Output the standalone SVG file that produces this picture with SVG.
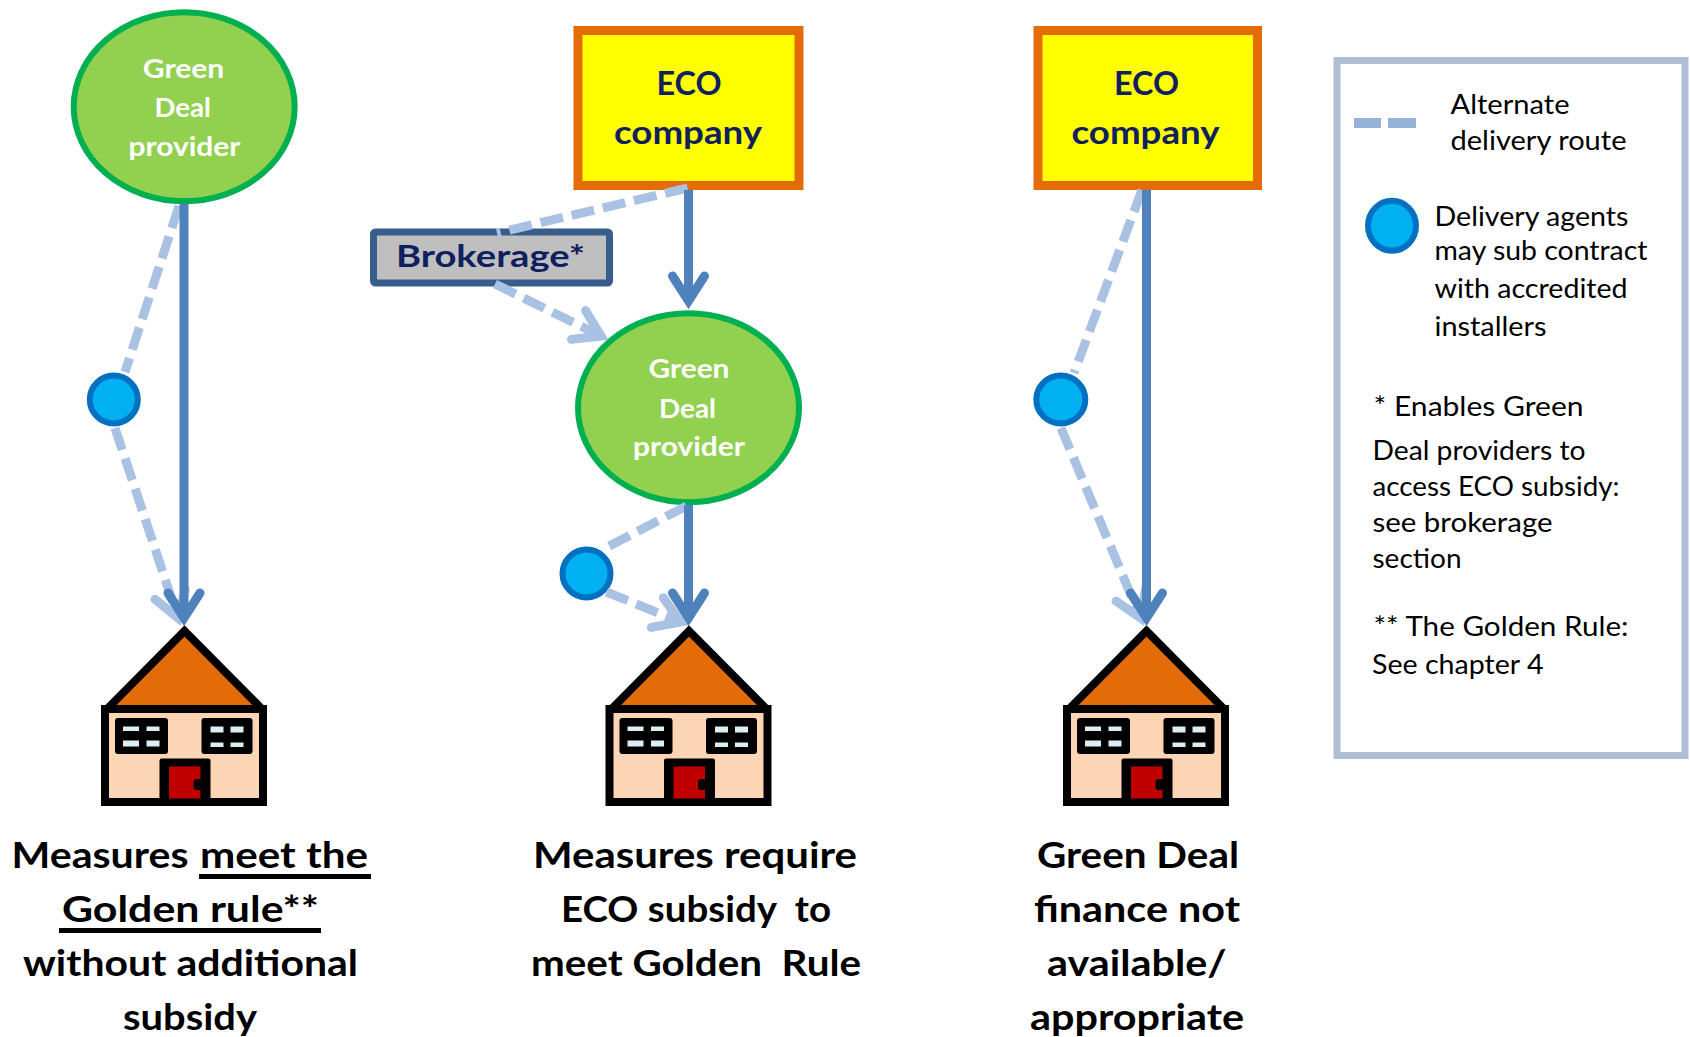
<svg xmlns="http://www.w3.org/2000/svg" width="1690" height="1037" viewBox="0 0 1690 1037">
<style>
text{font-family:"Lato","Carlito","Open Sans",sans-serif;white-space:pre}
.ell{fill:#92d050;stroke:#00b050;stroke-width:6}
.eco{fill:#ffff00;stroke:#e36c09;stroke-width:9}
.agent{fill:#00b0f0;stroke:#0070c0;stroke-width:6}
.w{fill:#fff;font-size:27px;font-weight:700;text-anchor:start}
.n{fill:#10205e;font-size:32px;font-weight:700}
.b{fill:#000;font-size:36px;font-weight:700}
.l{fill:#000;font-size:26px;font-weight:400}
.solid{fill:none;stroke:#4f81bd;stroke-width:9;marker-end:url(#ah)}
.dash{fill:none;stroke:#a9c1e2;stroke-width:9;stroke-dasharray:23 9}
.darr{marker-end:url(#ahl)}
.ul{stroke:#000;stroke-width:5}
</style>
<defs>
<marker id="ah" markerUnits="userSpaceOnUse" markerWidth="60" markerHeight="60" refX="45" refY="30" orient="auto" overflow="visible">
<path d="M20,14 L45,30 L20,46" fill="none" stroke="#4f81bd" stroke-width="9" stroke-linecap="round"/>
</marker>
<marker id="ahl" markerUnits="userSpaceOnUse" markerWidth="60" markerHeight="60" refX="45" refY="30" orient="auto" overflow="visible">
<path d="M20,14 L45,30 L20,46" fill="none" stroke="#a9c1e2" stroke-width="9" stroke-linecap="round"/>
</marker>
<g id="house">
<path d="M184.500,630 L106,709 H263 Z" fill="#e36c09"/>
<path d="M108,708 L184.500,631 L261,708" fill="none" stroke="#000" stroke-width="8"/>
<rect x="105" y="709" width="158" height="93" fill="#fcd5b5" stroke="#000" stroke-width="8"/>
<rect x="115" y="718" width="53" height="36" rx="3" fill="#000"/>
<rect x="201.500" y="718" width="51" height="36" rx="3" fill="#000"/>
<g fill="#dbeef4">
<rect x="123" y="726.500" width="16" height="4.500"/><rect x="146.500" y="726.500" width="13" height="4.500"/>
<rect x="123" y="740.500" width="16" height="6"/><rect x="146.500" y="740.500" width="13" height="6"/>
<rect x="210.500" y="726.500" width="13" height="6"/><rect x="230.500" y="726.500" width="13" height="6"/>
<rect x="210.500" y="742.500" width="13" height="4.500"/><rect x="230.500" y="742.500" width="13" height="4.500"/>
</g>
<rect x="159.500" y="758.500" width="51" height="47" rx="2" fill="#000"/>
<rect x="169" y="766.500" width="31.500" height="32" fill="#c00000"/>
<rect x="193.500" y="779" width="8" height="11" rx="3" fill="#000"/>
</g>
</defs>
<rect width="1690" height="1037" fill="#fff"/>

<g id="house-1"><use href="#house"/></g>
<g id="house-2"><use href="#house" x="504.500"/></g>
<g id="house-3"><use href="#house" x="962"/></g>

<g id="provider-1">
<ellipse class="ell" cx="184.200" cy="106.700" rx="110.500" ry="94.500"/>
<text class="w" x="142.800" y="77.700" textLength="81.500" lengthAdjust="spacingAndGlyphs">Green</text>
<text class="w" x="154.500" y="117" textLength="56.500" lengthAdjust="spacingAndGlyphs">Deal</text>
<text class="w" x="128.500" y="155.700" textLength="112" lengthAdjust="spacingAndGlyphs">provider</text>
</g>
<g id="eco-1">
<rect class="eco" x="578" y="30.500" width="221" height="155"/>
<text class="n" x="656.500" y="95" textLength="65" lengthAdjust="spacingAndGlyphs">ECO</text>
<text class="n" x="614" y="143.800" textLength="148" lengthAdjust="spacingAndGlyphs">company</text>
</g>
<g id="eco-2">
<rect class="eco" x="1038" y="30.500" width="219.500" height="155"/>
<text class="n" x="1114" y="95" textLength="65" lengthAdjust="spacingAndGlyphs">ECO</text>
<text class="n" x="1071.500" y="143.800" textLength="148" lengthAdjust="spacingAndGlyphs">company</text>
</g>
<g id="brokerage">
<rect x="373.500" y="232" width="236" height="51" rx="2" fill="#bfbfbf" stroke="#385d8a" stroke-width="7"/>
<text x="396" y="266.700" fill="#10205e" font-size="30" font-weight="700" textLength="189" lengthAdjust="spacingAndGlyphs">Brokerage*</text>
</g>
<g id="provider-2">
<ellipse class="ell" cx="688.500" cy="407.700" rx="110.500" ry="94.500"/>
<text class="w" x="648.500" y="377.700" textLength="81" lengthAdjust="spacingAndGlyphs">Green</text>
<text class="w" x="659" y="417.700" textLength="57" lengthAdjust="spacingAndGlyphs">Deal</text>
<text class="w" x="633" y="456" textLength="112" lengthAdjust="spacingAndGlyphs">provider</text>
</g>
<g id="agent-1"><ellipse class="agent" cx="113.800" cy="399.500" rx="24" ry="24"/></g>
<g id="agent-2"><ellipse class="agent" cx="586.500" cy="573.500" rx="24" ry="24"/></g>
<g id="agent-3"><ellipse class="agent" cx="1060.800" cy="399.500" rx="24.500" ry="24"/></g>

<g id="connectors">
<path class="dash" d="M179,206 L125,372"/>
<path class="dash darr" d="M115,428 L178,618"/>
<path class="dash" d="M687.500,188 L497,233"/>
<path class="dash darr" d="M495,284 L601,336"/>
<path class="dash" d="M686.500,506 L603.500,549"/>
<path class="dash darr" d="M606.500,592 L680.500,622"/>
<path class="dash" d="M1142,190 L1074,373"/>
<path class="dash darr" d="M1061,428 L1140.500,618"/>
<path class="solid" d="M184,204 V618"/>
<path class="solid" d="M688.500,190 V301"/>
<path class="solid" d="M688.500,505 V618"/>
<path class="solid" d="M1146.500,190 V618"/>
</g>

<g id="outcome-1">
<text class="b" x="11.500" y="868" textLength="177" lengthAdjust="spacingAndGlyphs">Measures</text>
<text class="b" x="200" y="868" textLength="168" lengthAdjust="spacingAndGlyphs">meet the</text>
<line class="ul" x1="199" y1="876.500" x2="371" y2="876.500"/>
<text class="b" x="62" y="922" textLength="257" lengthAdjust="spacingAndGlyphs">Golden rule**</text>
<line class="ul" x1="59" y1="930.500" x2="321" y2="930.500"/>
<text class="b" x="23" y="976" textLength="335" lengthAdjust="spacingAndGlyphs">without additional</text>
<text class="b" x="123" y="1030" textLength="134" lengthAdjust="spacingAndGlyphs">subsidy</text>
</g>
<g id="outcome-2">
<text class="b" x="533" y="868" textLength="324" lengthAdjust="spacingAndGlyphs">Measures require</text>
<text class="b" x="561" y="922" textLength="270" lengthAdjust="spacingAndGlyphs">ECO subsidy  to</text>
<text class="b" x="531" y="976" textLength="330" lengthAdjust="spacingAndGlyphs">meet Golden  Rule</text>
</g>
<g id="outcome-3">
<text class="b" x="1037" y="868" textLength="202" lengthAdjust="spacingAndGlyphs">Green Deal</text>
<text class="b" x="1034" y="922" textLength="206" lengthAdjust="spacingAndGlyphs">finance not</text>
<text class="b" x="1047" y="976" textLength="179.500" lengthAdjust="spacingAndGlyphs">available/</text>
<text class="b" x="1030" y="1030" textLength="214" lengthAdjust="spacingAndGlyphs">appropriate</text>
</g>

<g id="legend">
<rect x="1337" y="60.500" width="348" height="695" fill="none" stroke="#b0bfd4" stroke-width="7"/>
<rect x="1354" y="118" width="27" height="10" fill="#95b3d7"/>
<rect x="1388" y="118" width="28" height="10" fill="#95b3d7"/>
<text class="l" x="1450.500" y="114" textLength="119" lengthAdjust="spacingAndGlyphs">Alternate</text>
<text class="l" x="1450.500" y="149.800" textLength="176" lengthAdjust="spacingAndGlyphs">delivery route</text>
<ellipse class="agent" cx="1392" cy="225.700" rx="24" ry="25"/>
<text class="l" x="1434.500" y="226" textLength="194" lengthAdjust="spacingAndGlyphs">Delivery agents</text>
<text class="l" x="1434.500" y="259.800" textLength="213" lengthAdjust="spacingAndGlyphs">may sub contract</text>
<text class="l" x="1434.500" y="297.700" textLength="193" lengthAdjust="spacingAndGlyphs">with accredited</text>
<text class="l" x="1434.500" y="336" textLength="112" lengthAdjust="spacingAndGlyphs">installers</text>
<text class="l" x="1373.500" y="416" textLength="210" lengthAdjust="spacingAndGlyphs">* Enables Green</text>
<text class="l" x="1372.500" y="460" textLength="213" lengthAdjust="spacingAndGlyphs">Deal providers to</text>
<text class="l" x="1372.500" y="495.700" textLength="247" lengthAdjust="spacingAndGlyphs">access ECO subsidy:</text>
<text class="l" x="1372.500" y="531.700" textLength="180" lengthAdjust="spacingAndGlyphs">see brokerage</text>
<text class="l" x="1372.500" y="568.300" textLength="89" lengthAdjust="spacingAndGlyphs">section</text>
<text class="l" x="1373.500" y="635.700" textLength="255" lengthAdjust="spacingAndGlyphs">** The Golden Rule:</text>
<text class="l" x="1372" y="674" textLength="171.500" lengthAdjust="spacingAndGlyphs">See chapter 4</text>
</g>
</svg>
